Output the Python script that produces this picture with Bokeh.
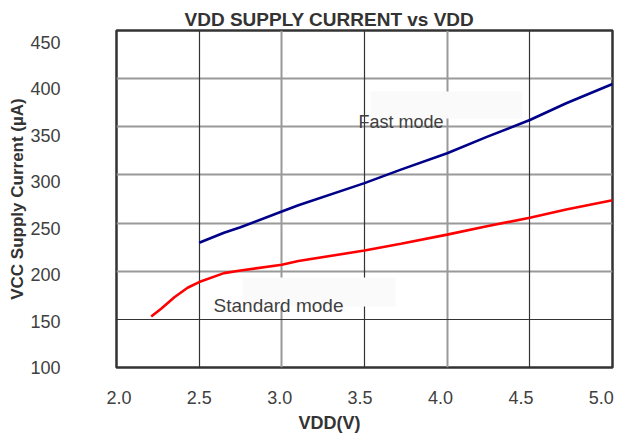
from bokeh.plotting import figure
from bokeh.models import (Range1d, LinearAxis, FixedTicker, Grid, Label,
                          NumeralTickFormatter, Title)
from bokeh.embed import file_html
from bokeh.resources import INLINE

# ---- data ----
fast_vdd = [2.5, 2.65, 2.75, 3.0, 3.1, 3.5, 3.72, 4.0, 4.24, 4.5, 4.72, 5.0]
fast_ua = [229.5, 240.0, 245.7, 262.0, 268.5, 291.5, 305.5, 322.5, 339.5, 357.0, 374.5, 394.5]

std_vdd = [2.21, 2.27, 2.35, 2.43, 2.5, 2.65, 2.75, 3.0, 3.1, 3.5, 3.72, 4.0, 4.24, 4.5, 4.72, 5.0]
std_ua = [153.0, 161.0, 173.0, 182.8, 188.7, 198.0, 200.8, 206.7, 210.6, 221.5, 228.5, 238.0, 246.6, 255.6, 264.0, 273.6]

x_ticks = [2.0, 2.5, 3.0, 3.5, 4.0, 4.5, 5.0]
y_ticks = [100, 150, 200, 250, 300, 350, 400, 450]

# grid line groups (style)
x_grid_dark = [2.5, 3.5, 4.5]
x_grid_gray = [3.0, 4.0]
y_grid_dark = [150]
y_grid_gray = [200, 250, 300, 350, 400]

# annotations: text, anchor (data units) and their faint background boxes
note_text = ["Fast mode", "Standard mode"]
note_x = [3.464, 2.587]
note_y = [354.5, 164.5]
note_size = ["18px", "19px"]
box_left = [3.537, 2.762]
box_right = [4.456, 3.688]
box_bottom = [358.6, 163.4]
box_top = [386.7, 193.5]

FONT = "Liberation Sans"

p = figure(frame_width=496, frame_height=337,
           x_range=Range1d(2.0, 5.0), y_range=Range1d(100, 450),
           x_axis_type=None, y_axis_type=None,
           output_backend="svg", toolbar_location=None,
           min_border_left=116, min_border_right=6,
           min_border_top=30, min_border_bottom=60)
p.background_fill_color = "white"
p.border_fill_color = "white"
p.outline_line_color = "#333333"
p.outline_line_width = 2.5

# title
p.title.text = "VDD SUPPLY CURRENT vs VDD"
p.title.align = "left"
p.title.offset = 68
p.title.standoff = 2
p.title.text_font = FONT
p.title.text_font_size = "19px"
p.title.text_font_style = "bold"
p.title.text_color = "#333333"

# grids
for ticks, dim, col, w in [(x_grid_gray, 0, "#999999", 2.0), (y_grid_gray, 1, "#999999", 2.0),
                           (x_grid_dark, 0, "#333333", 1.2), (y_grid_dark, 1, "#333333", 1.2)]:
    g = Grid(dimension=dim, ticker=FixedTicker(ticks=ticks),
             grid_line_color=col, grid_line_width=w)
    p.add_layout(g, "center")

# faint backgrounds behind annotation text
p.quad(left=box_left, right=box_right, bottom=box_bottom, top=box_top,
       fill_color="#fafafa", line_color=None)

# curves
p.line(fast_vdd, fast_ua, line_color="#000088", line_width=2.6)
p.line(std_vdd, std_ua, line_color="#ff0000", line_width=2.6)

for t, xx, yy, fs in zip(note_text, note_x, note_y, note_size):
    p.add_layout(Label(x=xx, y=yy, text=t, text_font=FONT, text_font_size=fs,
                       text_color="#404040", text_baseline="alphabetic"))

# label axes (labels placed as in the reference)
p.extra_x_ranges = {"xlab": Range1d(1.985, 5.0696)}
p.extra_y_ranges = {"ylab": Range1d(100, 463)}

xax = LinearAxis(x_range_name="xlab", ticker=FixedTicker(ticks=x_ticks),
                 formatter=NumeralTickFormatter(format="0.0"))
xax.axis_line_color = None
xax.major_tick_line_color = None
xax.minor_tick_line_color = None
xax.major_tick_out = 0
xax.major_label_standoff = 23
xax.major_label_text_font = FONT
xax.major_label_text_font_size = "18px"
xax.major_label_text_color = "#404040"
p.add_layout(xax, "below")

yax = LinearAxis(y_range_name="ylab", ticker=FixedTicker(ticks=y_ticks))
yax.axis_line_color = None
yax.major_tick_line_color = None
yax.minor_tick_line_color = None
yax.major_tick_out = 0
yax.major_label_standoff = 56
yax.major_label_text_font = FONT
yax.major_label_text_font_size = "18px"
yax.major_label_text_color = "#404040"
yax.axis_label = "VCC Supply Current (µA)"
yax.axis_label_standoff = 0
yax.axis_label_text_font = FONT
yax.axis_label_text_font_size = "17px"
yax.axis_label_text_font_style = "bold"
yax.axis_label_text_color = "#333333"
p.add_layout(yax, "left")

xt = Title(text="VDD(V)", align="left", offset=182, standoff=9,
           text_font=FONT, text_font_size="18px", text_font_style="bold",
           text_color="#333333")
p.add_layout(xt, "below")

open("out.html", "w").write(file_html(p, INLINE))
